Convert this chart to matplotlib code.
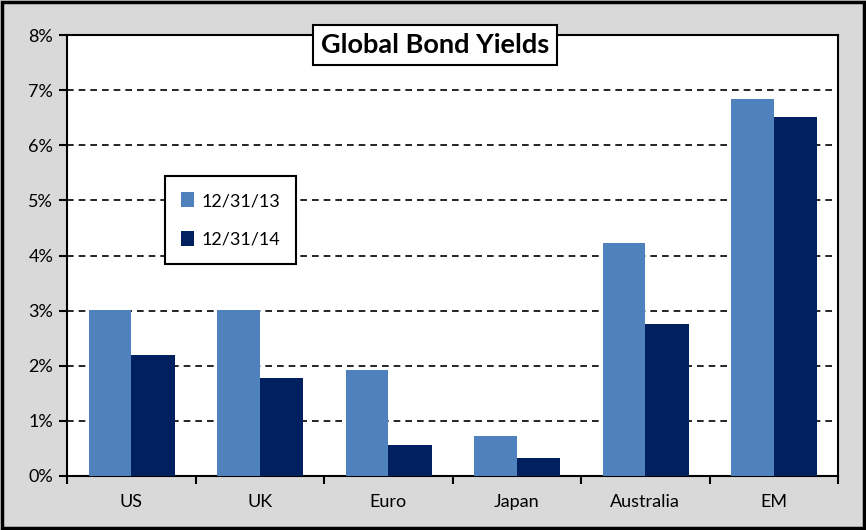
import numpy as np
import matplotlib.pyplot as plt
from matplotlib.patches import Rectangle
from matplotlib.ticker import FuncFormatter, FixedLocator

plt.rcParams['font.family'] = ['Lato', 'DejaVu Sans']

regions = ["US", "UK", "Euro", "Japan", "Australia", "EM"]
yield_2013 = [3.02, 3.02, 1.92, 0.73, 4.23, 6.84]
yield_2014 = [2.20, 1.78, 0.56, 0.33, 2.76, 6.52]
series_labels = ["12/31/13", "12/31/14"]

light = "#4f81bd"
dark = "#002060"

fig = plt.figure(figsize=(8.66, 5.3), dpi=100)
fig.patch.set_facecolor("#d9d9d9")
fig.patches.append(Rectangle((0.002, 0.003), 0.996, 0.994, transform=fig.transFigure,
                             fill=False, edgecolor="black", linewidth=2.5))

ax = fig.add_axes([0.0774, 0.1019, 0.8903, 0.832])
ax.set_facecolor("white")

x = np.arange(len(regions))
w = 0.33
ax.bar(x - w / 2, yield_2013, w, color=light, label=series_labels[0], zorder=3)
ax.bar(x + w / 2 + 0.005, yield_2014, w + 0.01, color=dark, label=series_labels[1], zorder=3)

ax.set_xlim(-0.5, len(regions) - 0.5)
ax.set_ylim(0, 8)
ax.set_yticks(range(0, 9))
ax.yaxis.set_major_formatter(FuncFormatter(lambda v, p: f"{int(v)}%"))
for v in range(1, 8):
    ax.axhline(v, color="black", linestyle=(0, (4, 3)), linewidth=1.2, zorder=1)

ax.set_xticks(x)
ax.set_xticklabels(regions, fontsize=13)
ax.tick_params(axis="x", which="major", length=0, pad=13)
ax.xaxis.set_minor_locator(FixedLocator(np.arange(-0.5, len(regions), 1.0)))
ax.tick_params(axis="x", which="minor", length=6, width=1.5, direction="out")
ax.tick_params(axis="y", length=6, width=1.5, labelsize=13, pad=4)

for s in ax.spines.values():
    s.set_linewidth(1.5)
    s.set_color("black")

ax.text(0.477, 0.977, "Global Bond Yields", transform=ax.transAxes,
        ha="center", va="center", fontsize=19.5, fontweight="bold", zorder=5,
        bbox=dict(boxstyle="square,pad=0.3", facecolor="white", edgecolor="black", linewidth=1.5))

leg = ax.legend(loc="upper left", bbox_to_anchor=(0.127, 0.68), borderaxespad=0, fontsize=13,
                fancybox=False, edgecolor="black", framealpha=1, labelspacing=1.2,
                handlelength=0.7, handleheight=0.9, handletextpad=0.4, borderpad=0.9)
leg.get_frame().set_linewidth(1.5)

fig.savefig("out.png", dpi=100, facecolor=fig.get_facecolor())
